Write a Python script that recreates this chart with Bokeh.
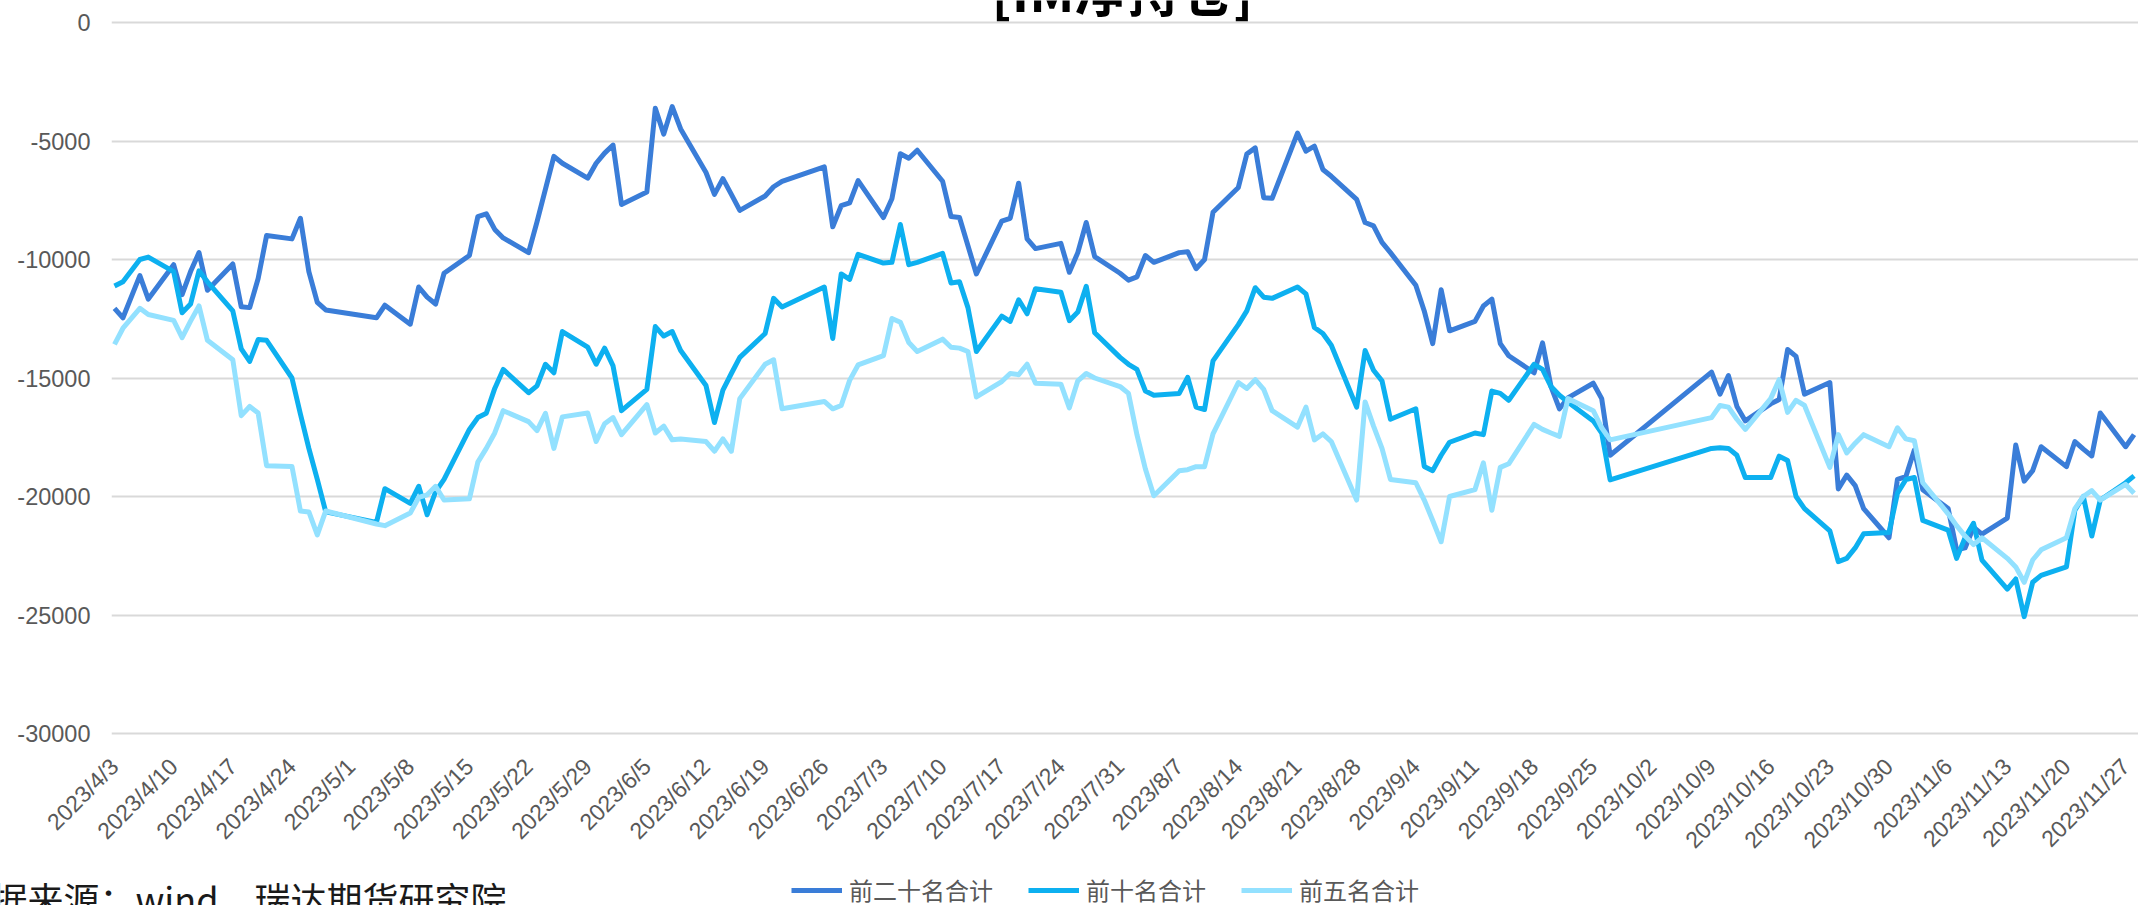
import math
from datetime import datetime
import pandas as pd
from bokeh.plotting import figure
from bokeh.layouts import column
from bokeh.models import (ColumnDataSource, Range1d, FixedTicker, CustomJSTickFormatter,
                          Legend, LegendItem, Label)
from bokeh.embed import file_html
from bokeh.resources import INLINE

# ---------------- data ----------------
dates = [
    "2023-04-03", "2023-04-04", "2023-04-06", "2023-04-07", "2023-04-10", "2023-04-11", "2023-04-12",
    "2023-04-13", "2023-04-14", "2023-04-17", "2023-04-18", "2023-04-19", "2023-04-20", "2023-04-21",
    "2023-04-24", "2023-04-25", "2023-04-26", "2023-04-27", "2023-04-28",
    "2023-05-04", "2023-05-05", "2023-05-08", "2023-05-09", "2023-05-10", "2023-05-11", "2023-05-12",
    "2023-05-15", "2023-05-16", "2023-05-17", "2023-05-18", "2023-05-19", "2023-05-22", "2023-05-23",
    "2023-05-24", "2023-05-25", "2023-05-26", "2023-05-29", "2023-05-30", "2023-05-31",
    "2023-06-01", "2023-06-02", "2023-06-05", "2023-06-06", "2023-06-07", "2023-06-08", "2023-06-09",
    "2023-06-12", "2023-06-13", "2023-06-14", "2023-06-15", "2023-06-16", "2023-06-19", "2023-06-20",
    "2023-06-21", "2023-06-26", "2023-06-27", "2023-06-28", "2023-06-29", "2023-06-30",
    "2023-07-03", "2023-07-04", "2023-07-05", "2023-07-06", "2023-07-07", "2023-07-10", "2023-07-11",
    "2023-07-12", "2023-07-13", "2023-07-14", "2023-07-17", "2023-07-18", "2023-07-19", "2023-07-20",
    "2023-07-21", "2023-07-24", "2023-07-25", "2023-07-26", "2023-07-27", "2023-07-28", "2023-07-31",
    "2023-08-01", "2023-08-02", "2023-08-03", "2023-08-04", "2023-08-07", "2023-08-08", "2023-08-09",
    "2023-08-10", "2023-08-11", "2023-08-14", "2023-08-15", "2023-08-16", "2023-08-17", "2023-08-18",
    "2023-08-21", "2023-08-22", "2023-08-23", "2023-08-24", "2023-08-25", "2023-08-28", "2023-08-29",
    "2023-08-30", "2023-08-31",
    "2023-09-01", "2023-09-04", "2023-09-05", "2023-09-06", "2023-09-07", "2023-09-08", "2023-09-11",
    "2023-09-12", "2023-09-13", "2023-09-14", "2023-09-15", "2023-09-18", "2023-09-19", "2023-09-20",
    "2023-09-21", "2023-09-22", "2023-09-25", "2023-09-26", "2023-09-27",
    "2023-10-09", "2023-10-10", "2023-10-11", "2023-10-12", "2023-10-13", "2023-10-16", "2023-10-17",
    "2023-10-18", "2023-10-19", "2023-10-20", "2023-10-23", "2023-10-24", "2023-10-25", "2023-10-26",
    "2023-10-27", "2023-10-30", "2023-10-31",
    "2023-11-01", "2023-11-02", "2023-11-03", "2023-11-06", "2023-11-07", "2023-11-08", "2023-11-09",
    "2023-11-10", "2023-11-13", "2023-11-14", "2023-11-15", "2023-11-16", "2023-11-17", "2023-11-20",
    "2023-11-21", "2023-11-22", "2023-11-23", "2023-11-24", "2023-11-27", "2023-11-28",
]

top20 = [
    -12060, -12460, -10680, -11670, -10220, -11480, -10510, -9710, -11300, -10190, -11990, -12030, -10800, -8990,
    -9130, -8260, -10510, -11810, -12130,
    -12460, -11930, -12730, -11160, -11590, -11880, -10580, -9830, -8190, -8070, -8730, -9090, -9710, -8410,
    -7030, -5650, -5940, -6570, -5940, -5510,
    -5170, -7680, -7150, -3620, -4710, -3550, -4490, -6330, -7250, -6590, -7250, -7930, -7320, -6930,
    -6700, -6090, -8620, -7730, -7610, -6670,
    -8230, -7440, -5540, -5730, -5390, -6700, -8190, -8230, -9420, -10610, -8380, -8260, -6780, -9130,
    -9540, -9320, -10540, -9710, -8440, -9880, -10580,
    -10870, -10730, -9830, -10120, -9710, -9670, -10390, -10000, -8010, -6960, -5550, -5290, -7390, -7420,
    -4670, -5430, -5220, -6200, -6490, -7460, -8440, -8580, -9280,
    -9710, -11090, -12170, -13550, -11280, -13010, -12610, -11960, -11670, -13550, -14060, -14780, -13520,
    -15360, -16300, -15840, -15220, -15870, -18260,
    -14750, -15680, -14900, -16200, -16810, -16090, -15910, -13800, -14090, -15680, -15190, -19680, -19100,
    -19540, -20510, -21740, -19280,
    -19160, -18040, -19710, -20510, -22250, -22170, -21300, -21590, -20910, -17830, -19350, -18910, -17900,
    -18740, -17680, -18000, -18290, -16480, -17900, -17390,
]

top10 = [
    -11120, -10940, -10000, -9900, -10510, -12250, -11880, -10480, -10940, -12170, -13770, -14300, -13380,
    -13410, -15000, -16520, -17970, -19280, -20650,
    -21090, -19670, -20290, -19570, -20770, -19800, -19280, -17170, -16670, -16490, -15440, -14640, -15620,
    -15330, -14420, -14780, -13040, -13700, -14420, -13740,
    -14490, -16380, -15480, -12830, -13230, -13040, -13840, -15320, -16880, -15510, -14810, -14130, -13120,
    -11640, -12000, -11160, -13330, -10610, -10840, -9780,
    -10150, -10120, -8520, -10220, -10120, -9740, -10990, -10940, -12030, -13880, -12390, -12610, -11700,
    -12290, -11230, -11380, -12580, -12220, -11130, -13090, -14130,
    -14420, -14640, -15550, -15730, -15650, -14970, -16230, -16330, -14280, -12750, -12170, -11190, -11590,
    -11640, -11160, -11450, -12870, -13120, -13620, -16230, -13840, -14670, -15120,
    -16740, -16300, -18730, -18910, -18260, -17710, -17320, -17390, -15550, -15650, -15940, -14420, -14640,
    -15360, -15730, -16010, -16810, -17320, -19300,
    -17970, -17940, -17970, -18260, -19200, -19200, -18300, -18480, -20000, -20510, -21450, -22750, -22610,
    -22170, -21570, -21520, -19860,
    -19280, -19200, -21010, -21420, -22610, -21740, -21130, -22680, -23910, -23480, -25070, -23620, -23330,
    -22970, -20580, -20000, -21670, -20150, -19420, -19130,
]

top5 = [
    -13580, -12900, -12060, -12320, -12570, -13300, -12600, -11960, -13410, -14230, -16590, -16200, -16480,
    -18700, -18730, -20610, -20650, -21620, -20610,
    -21160, -21230, -20700, -20040, -19930, -19570, -20150, -20100, -18550, -17970, -17320, -16380, -16840,
    -17220, -16490, -17970, -16640, -16480, -17680, -16930,
    -16670, -17390, -16120, -17320, -17030, -17610, -17570, -17680, -18090, -17570, -18090, -15870, -14420,
    -14230, -16300, -15990, -16300, -16160, -15100, -14450,
    -14060, -12490, -12650, -13500, -13880, -13360, -13700, -13740, -13880, -15800, -15150, -14810, -14860,
    -14420, -15220, -15260, -16260, -15120, -14810, -15000, -15360,
    -15650, -17390, -18840, -19970, -18910, -18870, -18740, -18740, -17360, -15190, -15440, -15070, -15480,
    -16380, -17070, -16230, -17610, -17360, -17680, -20150, -16010, -17030, -17970,
    -19280, -19420, -20150, -21010, -21910, -20000, -19710, -18580, -20580, -18770, -18620, -16960, -17170,
    -17320, -17460, -15870, -16380, -17100, -17610,
    -16670, -16160, -16230, -16740, -17170, -15870, -15070, -16450, -15940, -16160, -18770, -17390, -18160,
    -17750, -17390, -17900, -17100,
    -17570, -17650, -19420, -20730, -21230, -21670, -22030, -21740, -22610, -22970, -23620, -22680, -22250,
    -21740, -20510, -20000, -19750, -20150, -19490, -19860,
]

series_names = ["前二十名合计", "前十名合计", "前五名合计"]
series_colors = ["#3A7DD8", "#0DB0F0", "#93E1FF"]

tick_labels = [
    "2023/4/3", "2023/4/10", "2023/4/17", "2023/4/24", "2023/5/1", "2023/5/8", "2023/5/15", "2023/5/22",
    "2023/5/29", "2023/6/5", "2023/6/12", "2023/6/19", "2023/6/26", "2023/7/3", "2023/7/10", "2023/7/17",
    "2023/7/24", "2023/7/31", "2023/8/7", "2023/8/14", "2023/8/21", "2023/8/28", "2023/9/4", "2023/9/11",
    "2023/9/18", "2023/9/25", "2023/10/2", "2023/10/9", "2023/10/16", "2023/10/23", "2023/10/30",
    "2023/11/6", "2023/11/13", "2023/11/20", "2023/11/27",
]
y_ticks = [0, -5000, -10000, -15000, -20000, -25000, -30000]

title_text = "[IM净持仓]"
source_text = "数据来源：wind，瑞达期货研究院"

assert len(dates) == len(top20) == len(top10) == len(top5)

# ---------------- helpers ----------------
EPOCH = datetime(1970, 1, 1)
DAY_MS = 86400000.0


def to_ms(d):
    return (d - EPOCH).total_seconds() * 1000.0


src = ColumnDataSource(dict(
    date=pd.to_datetime(dates),
    top20=top20, top10=top10, top5=top5,
))

tick_ms = [to_ms(datetime.strptime(s, "%Y/%m/%d")) for s in tick_labels]

# ---------------- geometry (page px; layout sits at the page's top-left) ----------------
W = 2138
MAIN_H, FOOT_H = 870, 35
LEFT, BOTTOM = 111, 135
frame_w = W - LEFT
frame_bottom = MAIN_H - BOTTOM      # 735 ; frame top at 0
px_per_day = 8.45
x_start = to_ms(datetime(2023, 4, 3)) - (3.0 / px_per_day) * DAY_MS
x_end = x_start + (frame_w / px_per_day) * DAY_MS
units_per_px = 30000.0 / 711.0      # 0 at y=22, -30000 at y=733
y_top = 22 * units_per_px
y_bot = -30000 - (frame_bottom - 733) * units_per_px

fig = figure(width=W, height=MAIN_H, x_axis_type="datetime", output_backend="svg", toolbar_location=None,
             x_range=Range1d(x_start, x_end), y_range=Range1d(y_bot, y_top),
             min_border_left=LEFT, min_border_right=0, min_border_top=0, min_border_bottom=BOTTOM)
fig.outline_line_color = None
fig.background_fill_color = "white"
fig.border_fill_color = "white"

fig.xgrid.visible = False
fig.ygrid.ticker = FixedTicker(ticks=y_ticks)
fig.ygrid.grid_line_color = "#D9D9D9"
fig.ygrid.grid_line_width = 2

ya = fig.yaxis[0]
ya.ticker = FixedTicker(ticks=y_ticks)
ya.formatter = CustomJSTickFormatter(code="return tick.toFixed(0);")
ya.axis_line_color = None
ya.major_tick_line_color = None
ya.minor_tick_line_color = None
ya.major_tick_out = 0
ya.major_label_standoff = 21
ya.major_label_text_color = "#595959"
ya.major_label_text_font = "Liberation Sans"
ya.major_label_text_font_size = "23.5px"

xa = fig.xaxis[0]
xa.ticker = FixedTicker(ticks=tick_ms)
xa.formatter = CustomJSTickFormatter(code="""
    const d = new Date(tick);
    return d.getUTCFullYear() + '/' + (d.getUTCMonth() + 1) + '/' + d.getUTCDate();
""")
xa.major_label_orientation = math.pi / 4
xa.axis_line_color = None
xa.major_tick_line_color = None
xa.minor_tick_line_color = None
xa.major_tick_out = 0
xa.major_label_standoff = 27
xa.major_label_text_color = "#595959"
xa.major_label_text_font = "Liberation Sans"
xa.major_label_text_font_size = "23px"

for col, color in zip(["top20", "top10", "top5"], series_colors):
    fig.line(x="date", y=col, source=src, line_color=color, line_width=5, line_join="round")

title = Label(x=1122 - LEFT, y=frame_bottom - 12 + 24, x_units="screen", y_units="screen",
              text=title_text, text_align="center", text_baseline="alphabetic",
              text_font="Noto Sans CJK SC", text_font_style="bold", text_font_size="53px",
              text_color="#000000")
fig.add_layout(title)

# ---------------- footer strip: legend + source note ----------------
foot = figure(width=W, height=FOOT_H, output_backend="svg", toolbar_location=None,
              x_axis_location=None, y_axis_location=None, min_border=0,
              x_range=Range1d(0, 1), y_range=Range1d(0, 1))
foot.outline_line_color = None
foot.grid.visible = False
foot.background_fill_color = "white"
foot.border_fill_color = "white"

for plot in (fig, foot):
    if "frame_align" in plot.properties():
        plot.frame_align = False

# legend keys: styled line renderers holding no visible point
keys = []
for color in series_colors:
    keys.append(foot.line(x=[float("nan")], y=[float("nan")], line_color=color, line_width=5))

legend = Legend(
    items=[LegendItem(label=n, renderers=[r]) for n, r in zip(series_names, keys)],
    orientation="horizontal", location=(791, -2),
    glyph_width=51, glyph_height=24, label_height=24, label_standoff=7, spacing=35,
    padding=0, margin=0, border_line_color=None, background_fill_alpha=0,
    label_text_font="Noto Sans CJK SC", label_text_font_size="24px", label_text_color="#595959",
)
foot.add_layout(legend)

source = Label(x=-45, y=8, x_units="screen", y_units="screen",
               text=source_text, text_align="left", text_baseline="alphabetic",
               text_font="Noto Sans CJK SC", text_font_size="36px", text_color="#1a1a1a")
foot.add_layout(source)

p = column(fig, foot, spacing=0)

open("out.html", "w").write(file_html(p, INLINE))
